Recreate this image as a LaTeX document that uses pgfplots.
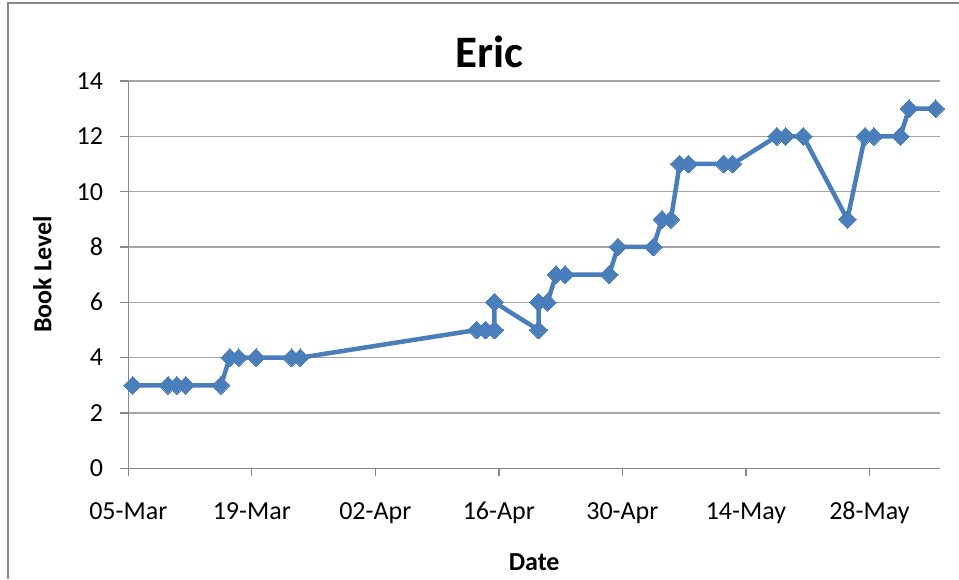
\documentclass[border=0pt]{standalone}
\usepackage{pgfplots}
\pgfplotsset{compat=1.18}
\usepackage{fontspec}
\setmainfont{Carlito}
\definecolor{serblue}{HTML}{4A7EBB}
\definecolor{gridgray}{HTML}{A6A6A6}
\definecolor{axgray}{HTML}{888888}
\begin{document}
\begin{tikzpicture}[x=1pt,y=1pt]
\useasboundingbox (-128.3,-110.7) rectangle (830.7,468.3);
\draw[axgray, line width=2pt] (-120,-110.7) -- (-120,464.8) -- (830.7,464.8);
\begin{axis}[
  scale only axis, width=811.7pt, height=387.3pt,
  xmin=0, xmax=92, ymin=0, ymax=14,
  axis x line=bottom, axis y line=left,
  axis line style={axgray, line width=1.3pt, -},
  xtick={0,14,28,42,56,70,84},
  xticklabels={05-Mar,19-Mar,02-Apr,16-Apr,30-Apr,14-May,28-May},
  ytick={0,2,...,14},
  tick align=outside, major tick length=8pt,
  tick style={axgray, line width=1.3pt},
  ymajorgrids, major grid style={gridgray, line width=1.3pt},
  /pgf/number format/assume math mode=true,
  tick label style={font=\fontsize{26}{30}\selectfont, text=black},
  xticklabel style={anchor=base, yshift=-43pt},
  yticklabel style={anchor=east, inner xsep=0pt, xshift=-17pt},
  title={Eric},
  title style={font=\fontsize{45}{50}\selectfont\bfseries, anchor=base, at={(axis description cs:0.4444,1.0369)}, yshift=-7pt},
  xlabel={Date},
  ylabel={Book Level},
  every axis x label/.style={font=\fontsize{26}{30}\selectfont\bfseries, at={(axis description cs:0.5,0)}, anchor=center, yshift=-93.7pt},
  every axis y label/.style={font=\fontsize{26}{30}\selectfont\bfseries, at={(axis description cs:0,0.5)}, anchor=center, rotate=90, yshift=86pt},
  clip=false,
]
\addplot[serblue, line width=4.5pt, mark=square*, mark size=6.3pt, mark options={rotate=45, line width=0pt, fill=serblue}] coordinates {
(0.5,3) (4.5,3) (5.5,3) (6.5,3) (10.5,3) (11.5,4) (12.5,4) (14.5,4) (18.5,4) (19.5,4)
(39.5,5) (40.5,5) (41.5,5) (41.5,6) (46.5,5) (46.5,6) (47.5,6) (48.5,7) (49.5,7) (54.5,7)
(55.5,8) (59.5,8) (60.5,9) (61.5,9) (62.5,11) (63.5,11) (67.5,11) (68.5,11) (73.5,12) (74.5,12)
(76.5,12) (81.5,9) (83.5,12) (84.5,12) (87.5,12) (88.5,13) (91.5,13)
};
\end{axis}
\end{tikzpicture}
\end{document}
